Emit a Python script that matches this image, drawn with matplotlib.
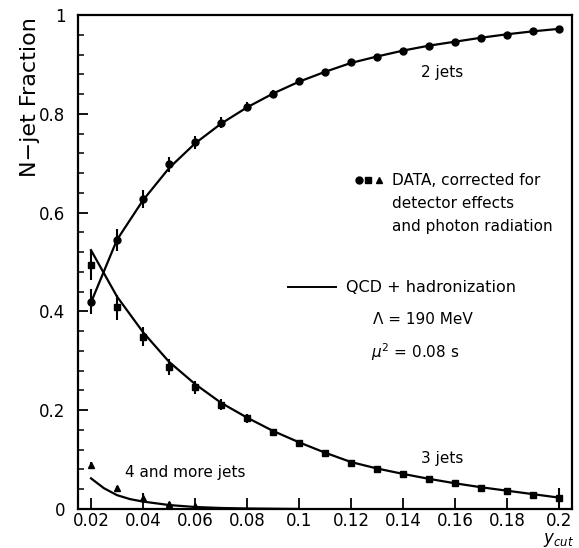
import matplotlib
matplotlib.use("Agg")
import matplotlib.pyplot as plt
import numpy as np

# ---- data ----
x_data = [0.02, 0.03, 0.04, 0.05, 0.06, 0.07, 0.08, 0.09, 0.10, 0.11,
          0.12, 0.13, 0.14, 0.15, 0.16, 0.17, 0.18, 0.19, 0.20]
two_jet = [0.420, 0.545, 0.627, 0.698, 0.742, 0.782, 0.814, 0.841, 0.866, 0.885,
           0.904, 0.916, 0.928, 0.938, 0.946, 0.954, 0.960, 0.968, 0.972]
two_jet_err = [0.025, 0.022, 0.018, 0.015, 0.013, 0.011, 0.009, 0.007, 0.006, 0.005,
               0.004, 0.004, 0.003, 0.003, 0.003, 0.003, 0.003, 0.003, 0.003]
three_jet = [0.494, 0.408, 0.349, 0.287, 0.246, 0.211, 0.184, 0.155, 0.133, 0.114,
             0.094, 0.081, 0.071, 0.060, 0.052, 0.043, 0.036, 0.029, 0.022]
three_jet_err = [0.030, 0.025, 0.020, 0.016, 0.013, 0.011, 0.009, 0.007, 0.006, 0.005,
                 0.004, 0.004, 0.003, 0.003, 0.003, 0.003, 0.003, 0.003, 0.020]
x_four = [0.02, 0.03, 0.04, 0.05, 0.06]
four_jet = [0.089, 0.043, 0.022, 0.011, 0.006]
four_jet_err = [0.006, 0.004, 0.010, 0.004, 0.004]

x_model = x_data
two_model = [0.418, 0.545, 0.625, 0.690, 0.740, 0.780, 0.813, 0.841, 0.865, 0.885,
             0.903, 0.916, 0.928, 0.938, 0.946, 0.954, 0.961, 0.967, 0.972]
three_model = [0.524, 0.430, 0.358, 0.298, 0.253, 0.215, 0.185, 0.158, 0.135, 0.114,
               0.095, 0.082, 0.071, 0.061, 0.052, 0.044, 0.037, 0.030, 0.023]
x_four_model = [0.02, 0.025, 0.03, 0.035, 0.04, 0.05, 0.06, 0.07, 0.08, 0.10]
four_model = [0.062, 0.042, 0.028, 0.020, 0.015, 0.008, 0.004, 0.002, 0.001, 0.0]

x_ticks = [0.02, 0.04, 0.06, 0.08, 0.10, 0.12, 0.14, 0.16, 0.18, 0.20]
x_ticklabels = ["0.02", "0.04", "0.06", "0.08", "0.1", "0.12", "0.14", "0.16", "0.18", "0.2"]
y_ticks = [0, 0.2, 0.4, 0.6, 0.8, 1.0]
y_ticklabels = ["0", "0.2", "0.4", "0.6", "0.8", "1"]

plt.rcParams['font.family'] = ['DejaVu Sans']
fig = plt.figure(figsize=(5.79, 5.48), dpi=100)
ax = fig.add_axes([0.1347, 0.0712, 0.8533, 0.9014])

lw = 1.6
ax.plot(x_model, two_model, color='black', lw=lw)
ax.plot(x_model, three_model, color='black', lw=lw)
ax.plot(x_four_model, four_model, color='black', lw=lw)

ax.errorbar(x_data, two_jet, yerr=two_jet_err, fmt='o', color='black', ms=5,
            elinewidth=1.5, capsize=0)
ax.errorbar(x_data, three_jet, yerr=three_jet_err, fmt='s', color='black', ms=4.5,
            elinewidth=1.5, capsize=0)
ax.errorbar(x_four, four_jet, yerr=four_jet_err, fmt='^', color='black', ms=5,
            elinewidth=1.5, capsize=0)

ax.set_xlim(0.015, 0.205)
ax.set_ylim(0, 1)
ax.set_xticks(x_ticks)
ax.set_xticklabels(x_ticklabels)
ax.set_yticks(y_ticks)
ax.set_yticklabels(y_ticklabels)
ax.set_yticks(np.arange(0, 1.0001, 0.04), minor=True)
ax.tick_params(axis='both', which='major', direction='in', length=8, width=1.3,
               labelsize=12, colors='black')
ax.tick_params(axis='y', which='major', length=7, pad=9)
ax.tick_params(axis='y', which='minor', direction='in', length=4, width=1.1)
ax.tick_params(axis='x', which='major', pad=2)
for s in ax.spines.values():
    s.set_linewidth(1.6)

ax.set_ylabel("N\u2212jet Fraction", fontsize=16)
ax.yaxis.set_label_coords(-0.077, 0.834)
fig.text(0.9637, 0.009, r"$y_{cut}$", fontsize=12, ha='center', va='baseline')

fs = 11
ax.text(0.155, 0.883, "2 jets", fontsize=fs, ha='center', va='center')
ax.text(0.155, 0.103, "3 jets", fontsize=fs, ha='center', va='center')
ax.text(0.033, 0.073, "4 and more jets", fontsize=fs, ha='left', va='center')

# legend markers
ax.plot([0.1229], [0.666], 'o', color='black', ms=5)
ax.plot([0.1267], [0.666], 's', color='black', ms=4.5)
ax.plot([0.1306], [0.666], '^', color='black', ms=5)
ax.text(0.1358, 0.666, "DATA, corrected for", fontsize=fs, ha='left', va='center')
ax.text(0.1358, 0.619, "detector effects", fontsize=fs, ha='left', va='center')
ax.text(0.1358, 0.571, "and photon radiation", fontsize=fs, ha='left', va='center')

ax.plot([0.0956, 0.1144], [0.449, 0.449], color='black', lw=1.4)
ax.text(0.1182, 0.449, "QCD + hadronization", fontsize=fs + 0.5, ha='left', va='center')
ax.text(0.1285, 0.383, "\u039b = 190 MeV", fontsize=fs, ha='left', va='center')
ax.text(0.1275, 0.318, r"$\mu^2$ = 0.08 s", fontsize=fs, ha='left', va='center')

fig.savefig("out.png", dpi=100)
